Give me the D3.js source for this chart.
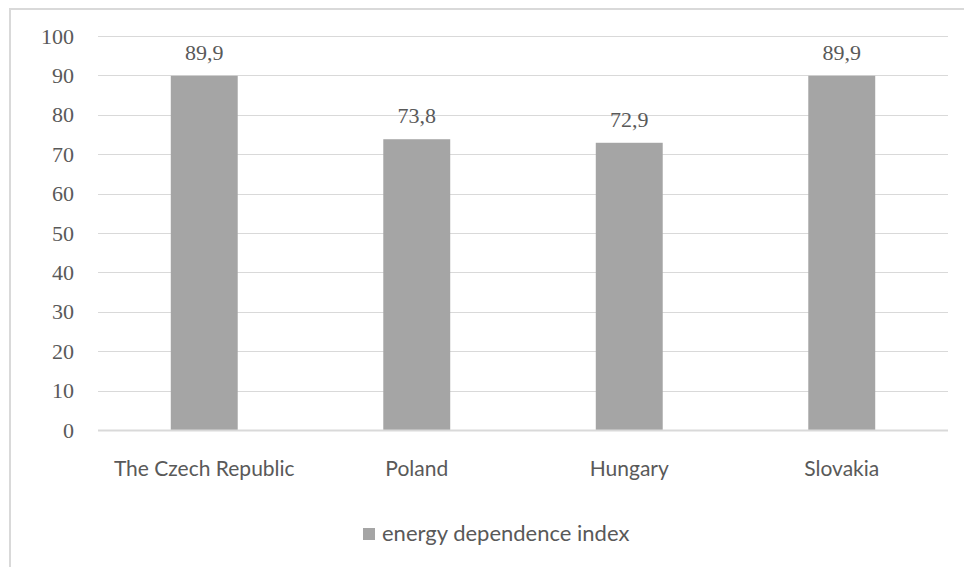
<!DOCTYPE html>
<html>
<head>
<meta charset="utf-8">
<script src="https://cdn.jsdelivr.net/npm/d3@7/dist/d3.min.js"></script>
<style>
  html, body { margin: 0; padding: 0; background: #fff; }
  svg { display: block; }
</style>
</head>
<body>
<svg id="chart" width="964" height="567"></svg>
<script>
const categories = ["The Czech Republic", "Poland", "Hungary", "Slovakia"];
const values = [89.9, 73.8, 72.9, 89.9];
const valueLabels = ["89,9", "73,8", "72,9", "89,9"];
const yTicks = [0, 10, 20, 30, 40, 50, 60, 70, 80, 90, 100];
const seriesName = "energy dependence index";

const svg = d3.select("#chart");
const W = 964, H = 567;
const plot = { left: 98, right: 948, top: 36, bottom: 430 };
const barColor = "#a5a5a5";
const gridColor = "#d9d9d9";
const textColor = "#595959";
const numFont = "'Liberation Serif', serif";
const sansFont = "Lato, 'Open Sans', sans-serif";

svg.append("rect").attr("x", 0).attr("y", 0).attr("width", W).attr("height", H).attr("fill", "#fff");
// chart border (cropped on right/bottom)
svg.append("rect")
  .attr("x", 10).attr("y", 9).attr("width", W + 20).attr("height", H + 20)
  .attr("fill", "none").attr("stroke", gridColor).attr("stroke-width", 2);

const x = d3.scaleBand().domain(categories).range([plot.left, plot.right])
  .paddingInner(0.685).paddingOuter(0.3425);
const y = d3.scaleLinear().domain([0, 100]).range([plot.bottom, plot.top]);

// gridlines
svg.append("g").selectAll("line").data(yTicks.filter(d => d !== 0)).join("line")
  .attr("x1", plot.left).attr("x2", plot.right)
  .attr("y1", d => Math.round(y(d)) + 0.5).attr("y2", d => Math.round(y(d)) + 0.5)
  .attr("stroke", gridColor).attr("stroke-width", 1);

// y axis labels
const yAxis = d3.axisLeft(y).tickValues(yTicks).tickSize(0).tickPadding(0).tickFormat(d3.format("d"));
const gy = svg.append("g").attr("transform", `translate(74,0)`).call(yAxis);
gy.select(".domain").remove();
gy.selectAll("text").attr("fill", textColor).style("font-family", numFont).style("font-size", "22px");

// bars
svg.append("g").selectAll("rect").data(values).join("rect")
  .attr("x", (d, i) => x(categories[i]))
  .attr("width", x.bandwidth())
  .attr("y", d => y(d))
  .attr("height", d => y(0) - y(d))
  .attr("fill", barColor);

// baseline
svg.append("line")
  .attr("x1", plot.left).attr("x2", plot.right)
  .attr("y1", y(0) + 0.5).attr("y2", y(0) + 0.5)
  .attr("stroke", gridColor).attr("stroke-width", 2);

// value labels
svg.append("g").selectAll("text").data(values).join("text")
  .attr("x", (d, i) => x(categories[i]) + x.bandwidth() / 2)
  .attr("y", d => y(d) - 16)
  .attr("text-anchor", "middle")
  .attr("fill", textColor)
  .style("font-family", numFont).style("font-size", "22px")
  .text((d, i) => valueLabels[i]);

// x axis labels
const xAxis = d3.axisBottom(x).tickSize(0).tickPadding(0);
const gx = svg.append("g").attr("transform", `translate(0,${plot.bottom})`).call(xAxis);
gx.select(".domain").remove();
gx.selectAll("text").attr("dy", null).attr("y", 46)
  .attr("fill", textColor).style("font-family", sansFont).style("font-size", "21px");

// legend
const lg = svg.append("g");
lg.append("rect").attr("x", 363).attr("y", 528).attr("width", 12).attr("height", 12).attr("fill", barColor);
lg.append("text").attr("x", 382).attr("y", 541)
  .attr("fill", textColor).style("font-family", sansFont).style("font-size", "22px")
  .text(seriesName);
</script>
</body>
</html>
